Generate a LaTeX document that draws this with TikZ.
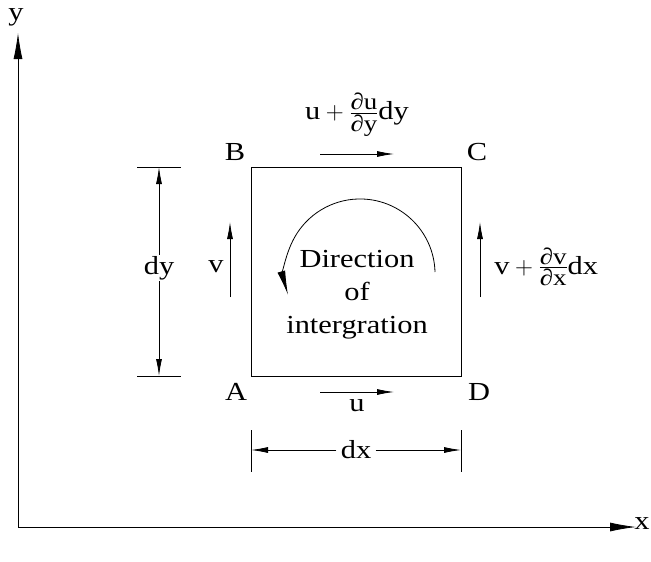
\documentclass[tikz,border=0pt]{standalone}
\usepackage{amsmath}
\usepackage{fontspec}
\setmainfont{Liberation Serif}[FakeStretch=1.17]
\usetikzlibrary{arrows.meta}
\newcommand{\pfrac}[2]{\genfrac{}{}{}{1}{\mbox{\fontsize{23}{23}\selectfont #1}}{\mbox{\fontsize{23}{23}\selectfont #2}}}

\begin{document}
\begin{tikzpicture}[x=1pt, y=-1pt, line width=0.8pt,
    lbl/.style={font=\fontsize{26}{33}\selectfont, inner sep=1pt},
    vec/.style={-{Latex[length=17pt, width=6pt]}},
    turn/.style={-{Latex[length=24pt, width=8pt]}},
    axis/.style={-{Latex[length=26pt, width=9pt]}}]
    \useasboundingbox (0,0) rectangle (651,562);

    % Axes
    \coordinate (O) at (18,527);
    \coordinate (ytip) at (18,33);
    \coordinate (xtip) at (636,527);
    \draw[axis] (O) -- (ytip);
    \draw[axis] (O) -- (xtip);
    \node[lbl] (ylab) at (16,17) {y};
    \node[lbl, anchor=east] (xlab) at (651,524) {x};

    % Element
    \coordinate (A) at (251,376);
    \coordinate (B) at (251,167);
    \coordinate (C) at (461,167);
    \coordinate (D) at (461,376);
    \draw (A) -- (B) -- (C) -- (D) -- cycle;
    \node[lbl] (labA) at (236,392) {A};
    \node[lbl] (labB) at (235,152) {B};
    \node[lbl] (labC) at (477,152) {C};
    \node[lbl] (labD) at (479,392) {D};

    % Velocities
    \coordinate (ut0) at (320,154);
    \coordinate (ut1) at (394,154);
    \draw[vec] (ut0) -- (ut1);
    \node[lbl] (utop) at (357,115) {$\text{u}+\pfrac{∂u}{∂y}\text{dy}$};
    \coordinate (ub0) at (320,392);
    \coordinate (ub1) at (394,392);
    \draw[vec] (ub0) -- (ub1);
    \node[lbl] (ubot) at (357,406) {u};
    \coordinate (vl0) at (230,297);
    \coordinate (vl1) at (230,222);
    \draw[vec] (vl0) -- (vl1);
    \node[lbl] (vleft) at (216,267) {v};
    \coordinate (vr0) at (480,297);
    \coordinate (vr1) at (480,222);
    \draw[vec] (vr0) -- (vr1);
    \node[lbl, anchor=west] (vright) at (493,267) {$\text{v}+\pfrac{∂v}{∂x}\text{dx}$};

    % Direction of integration
    \coordinate (arc0) at (435,272);
    \draw[turn] (arc0) arc[start angle=-1.5, end angle=-196, radius=75];
    \node[lbl, align=center] (dir) at (357,295) {Direction\\of\\intergration};

    % Dimensions
    \draw (137,167) -- (181,167);
    \draw (137,376) -- (181,376);
    \coordinate (dyT) at (159,167);
    \coordinate (dyB) at (159,376);
    \node[lbl, fill=white] (dy) at (159,268) {dy};
    \draw[vec] (dy) -- (dyT);
    \draw[vec] (dy) -- (dyB);
    \draw (251,430) -- (251,472);
    \draw (461,430) -- (461,472);
    \coordinate (dxL) at (251,450);
    \coordinate (dxR) at (461,450);
    \node[lbl, fill=white, inner xsep=4pt] (dx) at (356,450) {dx};
    \draw[vec] (dx) -- (dxL);
    \draw[vec] (dx) -- (dxR);
\end{tikzpicture}
\end{document}
